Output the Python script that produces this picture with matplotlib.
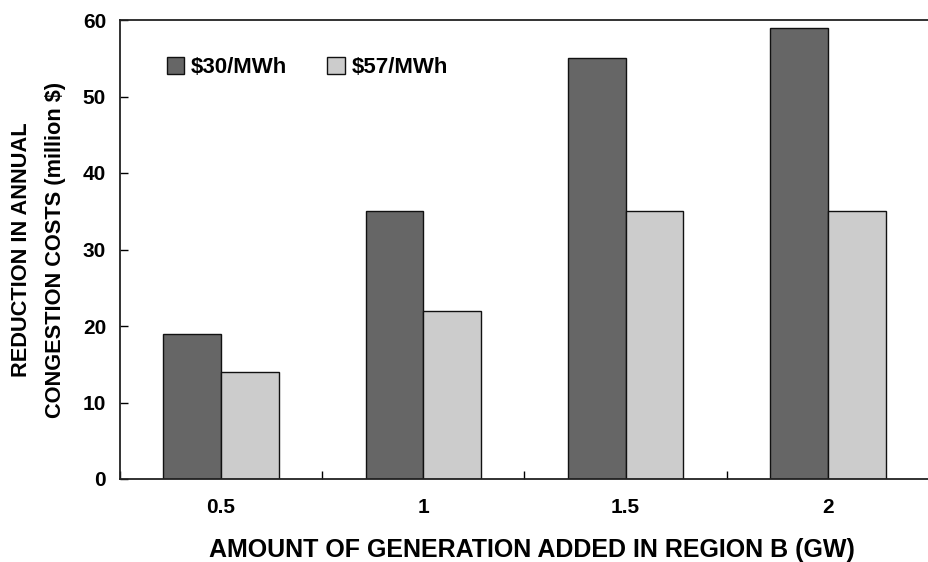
import matplotlib
matplotlib.use("Agg")
import matplotlib.pyplot as plt
import numpy as np

categories = ["0.5", "1", "1.5", "2"]
series_names = ["$30/MWh", "$57/MWh"]
values_30 = [19, 35, 55, 59]
values_57 = [14, 22, 35, 35]
y_ticks = [0, 10, 20, 30, 40, 50, 60]

plt.rcParams['font.family'] = ['Liberation Sans', 'DejaVu Sans']
plt.rcParams['font.weight'] = 'bold'

fig = plt.figure(figsize=(9.29, 5.62), dpi=100)
left = 120 / 929
bottom = (562 - 479) / 562
top = (562 - 20) / 562
ax = fig.add_axes([left, bottom, 1.0 - left, top - bottom])

x = np.arange(len(categories))
w = 0.285
ax.bar(x - w / 2, values_30, w, color="#666666", edgecolor="#111111", linewidth=1.0, label=series_names[0])
ax.bar(x + w / 2, values_57, w, color="#cccccc", edgecolor="#111111", linewidth=1.0, label=series_names[1])

ax.set_ylim(0, 60)
ax.set_yticks(y_ticks)
ax.set_yticklabels([str(v) for v in y_ticks], fontsize=15, fontweight='bold')
ax.set_xlim(-0.5, 3.45)
ax.set_xticks(x)
ax.set_xticklabels(categories, fontsize=15, fontweight='bold')
ax.set_xticks(np.arange(-0.5, 4, 1.0), minor=True)

ax.tick_params(axis='y', direction='in', length=6, width=1, pad=10)
ax.tick_params(axis='x', which='major', length=0, pad=14)
ax.tick_params(axis='x', which='minor', direction='in', length=6, width=1)

for s in ['left', 'bottom', 'top']:
    ax.spines[s].set_linewidth(1.3)
    ax.spines[s].set_color('#222222')
ax.spines['right'].set_visible(False)

ax.set_xlabel("AMOUNT OF GENERATION ADDED IN REGION B (GW)", fontsize=18, fontweight='bold', labelpad=15)
ax.xaxis.label.set_x(0.509)
ax.set_ylabel("REDUCTION IN ANNUAL\nCONGESTION COSTS (million $)", fontsize=15.7, fontweight='bold', labelpad=12, linespacing=1.8)

leg = ax.legend(loc='upper left', bbox_to_anchor=(0.033, 0.963), ncol=2, frameon=False,
                handlelength=0.8, handleheight=0.8, handletextpad=0.3,
                columnspacing=1.8, prop={'weight': 'bold', 'size': 16})

fig.savefig("out.png", dpi=100)
